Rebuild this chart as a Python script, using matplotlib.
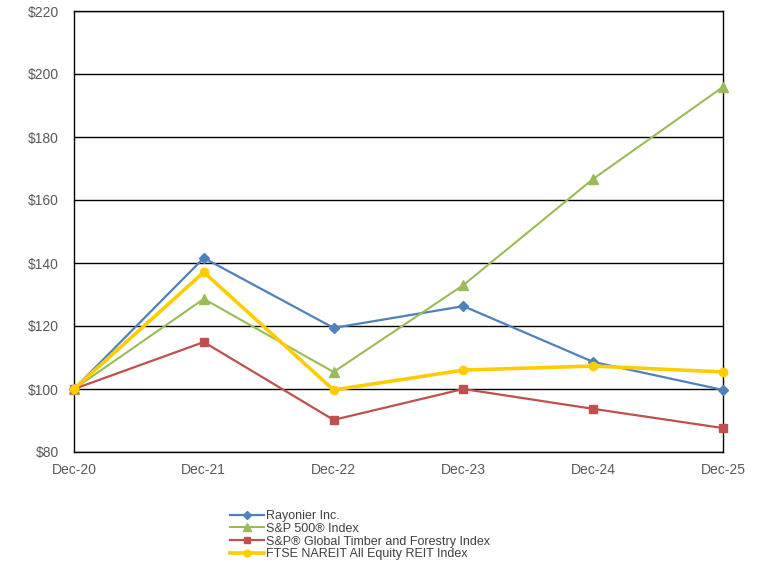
import matplotlib.pyplot as plt

plt.rcParams['font.family'] = ['Liberation Sans', 'DejaVu Sans']

# Data
years = ['Dec-20', 'Dec-21', 'Dec-22', 'Dec-23', 'Dec-24', 'Dec-25']
rayonier = [100, 141.6, 119.4, 126.3, 108.6, 99.7]
sp500 = [100, 128.6, 105.4, 133.0, 166.7, 195.9]
timber = [100, 114.9, 90.2, 100.0, 93.7, 87.6]
nareit = [100, 137.1, 99.7, 106.0, 107.3, 105.4]

fig = plt.figure(figsize=(7.68, 5.69), dpi=100)
ax = fig.add_axes([74 / 768, 1 - 452 / 569, 649 / 768, 441 / 569])

x = list(range(len(years)))
ax.plot(x, rayonier, color='#4F81BD', lw=1.6, marker='D', ms=5,
        label='Rayonier Inc.', clip_on=False, zorder=3)
ax.plot(x, sp500, color='#9BBB59', lw=1.5, marker='^', ms=6.5,
        label='S&P 500® Index', clip_on=False, zorder=3)
ax.plot(x, timber, color='#C0504D', lw=1.6, marker='s', ms=6,
        label='S&P® Global Timber and Forestry Index', clip_on=False, zorder=3)
ax.plot(x, nareit, color='#FFCC00', lw=2.6, marker='o', ms=6,
        label='FTSE NAREIT All Equity REIT Index', clip_on=False, zorder=4)

ax.set_xlim(0, 5)
ax.set_ylim(80, 220)
ax.set_xticks(x)
ax.set_xticklabels(years)
ax.set_yticks(range(80, 221, 20))
ax.set_yticklabels(['$%d' % v for v in range(80, 221, 20)])
ax.tick_params(axis='y', length=0, labelsize=10, labelcolor='#595959', pad=11)
ax.tick_params(axis='x', length=0, labelsize=10, labelcolor='#595959', pad=8)
ax.grid(axis='y', color='black', lw=1)
for s in ax.spines.values():
    s.set_color('black')
    s.set_linewidth(1)

leg = fig.legend(loc='upper left', bbox_to_anchor=(230 / 768, 1 - 510 / 569),
                 frameon=False, fontsize=9, labelspacing=0.06, handlelength=2.7,
                 handletextpad=0.2, borderaxespad=0, borderpad=0, markerscale=0.8)
for t in leg.get_texts():
    t.set_color('#404040')

fig.savefig('out.png', dpi=100)
